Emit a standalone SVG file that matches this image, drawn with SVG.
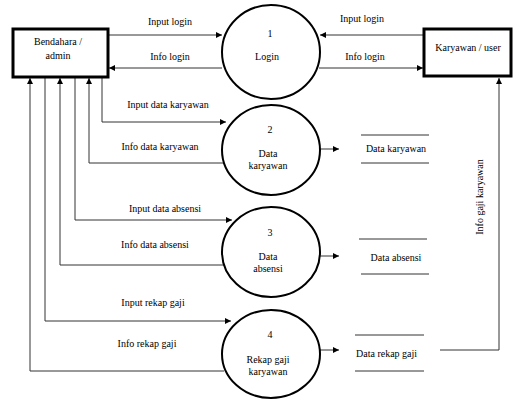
<svg xmlns="http://www.w3.org/2000/svg" width="514" height="402" viewBox="0 0 514 402">
<style>
text{font-family:'Liberation Serif','Times New Roman','DejaVu Serif',serif;font-size:10px;fill:#000}
.c{text-anchor:middle}
.box{fill:#fff;stroke:#000;stroke-width:3}
.proc{fill:#fff;stroke:#000;stroke-width:2}
.ln{fill:none;stroke:#333;stroke-width:1}
.st{stroke:#333;stroke-width:1}
</style>
<defs>
<marker id="ah" viewBox="0 0 10 10" refX="10" refY="5" markerWidth="6" markerHeight="6" markerUnits="userSpaceOnUse" orient="auto">
<path d="M0,0 L10,5 L0,10 z" fill="#000"/>
</marker>
</defs>
<rect width="514" height="402" fill="#fff"/>
<g id="connectors">
<line class="ln" x1="108" y1="35" x2="222" y2="35" marker-end="url(#ah)"/>
<line class="ln" x1="222" y1="68" x2="109" y2="68" marker-end="url(#ah)"/>
<line class="ln" x1="423" y1="35" x2="320" y2="35" marker-end="url(#ah)"/>
<line class="ln" x1="319" y1="68" x2="423" y2="68" marker-end="url(#ah)"/>
<polyline class="ln" points="102,78 102,122 226,122" marker-end="url(#ah)"/>
<polyline class="ln" points="223,163 89,163 89,78" marker-end="url(#ah)"/>
<polyline class="ln" points="75,78 75,220 232,220" marker-end="url(#ah)"/>
<polyline class="ln" points="224,265 60,265 60,78" marker-end="url(#ah)"/>
<polyline class="ln" points="45,78 45,321 231,321" marker-end="url(#ah)"/>
<polyline class="ln" points="224,371 30,371 30,78" marker-end="url(#ah)"/>
<line class="ln" x1="320" y1="149" x2="339" y2="149" marker-end="url(#ah)"/>
<line class="ln" x1="320" y1="256" x2="339" y2="256" marker-end="url(#ah)"/>
<line class="ln" x1="320" y1="350" x2="339" y2="350" marker-end="url(#ah)"/>
<polyline class="ln" points="440,350 499,350 499,78" marker-end="url(#ah)"/>
<text x="170" y="25" class="c">Input login</text>
<text x="170" y="60" class="c">Info login</text>
<text x="362" y="22" class="c">Input login</text>
<text x="365" y="60" class="c">Info login</text>
<text x="168" y="108" class="c">Input data karyawan</text>
<text x="160" y="150" class="c">Info data karyawan</text>
<text x="165" y="212" class="c">Input data absensi</text>
<text x="155" y="248" class="c">Info data absensi</text>
<text x="153" y="306" class="c">Input rekap gaji</text>
<text x="147" y="347" class="c">Info rekap gaji</text>
<text transform="translate(483,197) rotate(-90)" class="c">Info gaji karyawan</text>
</g>
<g id="bendahara">
<rect class="box" x="13" y="29" width="95" height="48"/>
<text x="58" y="45" class="c">Bendahara /</text>
<text x="58" y="59" class="c">admin</text>
</g>
<g id="karyawan">
<rect class="box" x="424" y="29" width="87" height="47"/>
<text x="468" y="51" class="c">Karyawan / user</text>
</g>
<g id="p1">
<ellipse class="proc" cx="271" cy="52" rx="49" ry="47"/>
<text x="270" y="37" class="c">1</text>
<text x="267" y="60" class="c">Login</text>
</g>
<g id="p2">
<ellipse class="proc" cx="271" cy="150" rx="49" ry="45"/>
<text x="270" y="133" class="c">2</text>
<text x="268" y="157" class="c">Data</text>
<text x="268" y="169" class="c">karyawan</text>
</g>
<g id="p3">
<ellipse class="proc" cx="271" cy="252" rx="49" ry="45"/>
<text x="270" y="236" class="c">3</text>
<text x="268" y="260" class="c">Data</text>
<text x="268" y="272" class="c">absensi</text>
</g>
<g id="p4">
<ellipse class="proc" cx="271" cy="354" rx="49" ry="44"/>
<text x="270" y="338" class="c">4</text>
<text x="268" y="363" class="c">Rekap gaji</text>
<text x="268" y="375" class="c">karyawan</text>
</g>
<g id="store-karyawan">
<line class="st" x1="361" y1="135" x2="429" y2="135"/>
<line class="st" x1="361" y1="163" x2="429" y2="163"/>
<text x="396" y="152" class="c">Data karyawan</text>
</g>
<g id="store-absensi">
<line class="st" x1="359" y1="239" x2="427" y2="239"/>
<line class="st" x1="361" y1="274" x2="429" y2="274"/>
<text x="396" y="261" class="c">Data absensi</text>
</g>
<g id="store-rekap">
<line class="st" x1="355" y1="335" x2="424" y2="335"/>
<line class="st" x1="355" y1="371" x2="424" y2="371"/>
<text x="356" y="357">Data rekap gaji</text>
</g>
</svg>
